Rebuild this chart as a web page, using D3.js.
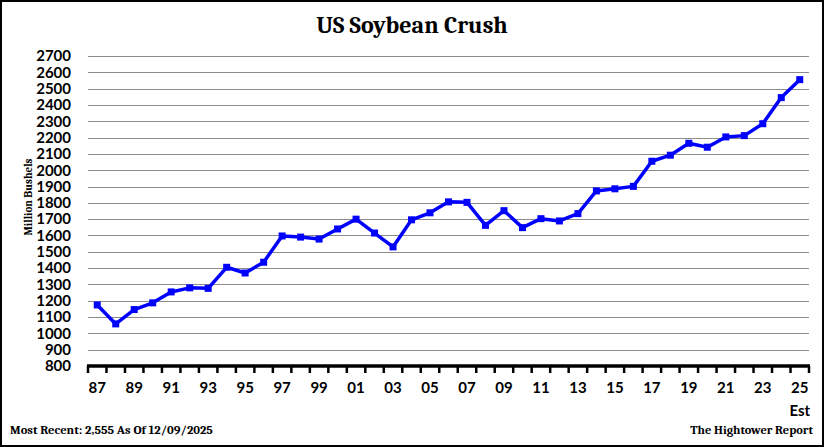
<!DOCTYPE html>
<html><head><meta charset="utf-8">
<script src="https://cdn.jsdelivr.net/npm/d3@7"></script>
<style>body{margin:0;background:#fff}svg{display:block}</style>
</head><body>
<svg id="c" width="824" height="447"></svg>
<script>
const years = ["87","88","89","90","91","92","93","94","95","96","97","98","99","00","01","02","03","04","05","06","07","08","09","10","11","12","13","14","15","16","17","18","19","20","21","22","23","24","25"];
const crush = [1174,1058,1146,1187,1254,1279,1276,1405,1370,1436,1597,1590,1578,1640,1700,1615,1530,1696,1739,1806,1803,1662,1752,1648,1703,1689,1734,1873,1886,1901,2055,2092,2165,2141,2204,2212,2285,2445,2555];
const yTicks = [800,900,1000,1100,1200,1300,1400,1500,1600,1700,1800,1900,2000,2100,2200,2300,2400,2500,2600,2700];
const title = "US Soybean Crush";
const yTitle = "Million Bushels";
const footLeft = "Most Recent: 2,555 As Of 12/09/2025";
const footRight = "The Hightower Report";

const svg = d3.select("#c");
const W = 824, H = 447;
const L = 88, R = 809, T = 56, B = 366;
const serif = "Cambria, 'Liberation Serif', 'DejaVu Serif', serif";
const sans = "Lato, Calibri, 'Open Sans', sans-serif";

svg.append("rect").attr("x",1).attr("y",1).attr("width",W-2).attr("height",H-2)
  .attr("fill","#fff").attr("stroke","#000").attr("stroke-width",2);

const x = d3.scaleBand().domain(years).range([L,R]);
const y = d3.scaleLinear().domain([800,2700]).range([B,T]);

// gridlines
svg.append("g").selectAll("line").data(yTicks.filter(v=>v>800)).join("line")
  .attr("x1",L).attr("x2",R).attr("y1",d=>Math.round(y(d))+0.5).attr("y2",d=>Math.round(y(d))+0.5)
  .attr("stroke","#8c8c8c").attr("stroke-width",1);

// y axis labels
const ya = svg.append("g").attr("transform",`translate(${L},0)`)
  .call(d3.axisLeft(y).tickValues(yTicks).tickFormat(d3.format("d")).tickSize(0).tickPadding(17));
ya.select(".domain").remove();
ya.selectAll("text").attr("font-family",sans).attr("font-weight","bold").attr("font-size",15).attr("fill","#000");

// x axis
const xa = svg.append("g").attr("transform",`translate(0,${B})`)
  .call(d3.axisBottom(x).tickSize(0).tickPadding(16).tickFormat((d,i)=> i%2===0 ? d : ""));
xa.select(".domain").remove();
xa.selectAll("text").attr("font-family",sans).attr("font-weight","bold").attr("font-size",15).attr("fill","#000");
// tick marks at band boundaries
const bounds = years.map(d=>x(d)).concat([x(years[years.length-1])+x.bandwidth()]);
svg.append("g").selectAll("line").data(bounds).join("line")
  .attr("x1",d=>d).attr("x2",d=>d).attr("y1",B).attr("y2",B+7)
  .attr("stroke","#000").attr("stroke-width",2.5);
svg.append("line").attr("x1",L-1).attr("x2",R+1).attr("y1",B).attr("y2",B)
  .attr("stroke","#000").attr("stroke-width",3.5);

svg.append("text").attr("x",x("25")+x.bandwidth()/2).attr("y",B+50)
  .attr("text-anchor","middle").attr("font-family",sans).attr("font-weight","bold")
  .attr("font-size",15).text("Est");

// line
const cx = d=>x(d)+x.bandwidth()/2;
svg.append("path").datum(years)
  .attr("d",d3.line().x(cx).y((d,i)=>y(crush[i])))
  .attr("fill","none").attr("stroke","#0000ff").attr("stroke-width",3.5).attr("stroke-linejoin","round");
svg.append("g").selectAll("rect").data(years).join("rect")
  .attr("x",d=>cx(d)-3.5).attr("y",(d,i)=>y(crush[i])-3.5).attr("width",7).attr("height",7)
  .attr("fill","#0000ff");

// titles
svg.append("text").attr("x",412).attr("y",33).attr("text-anchor","middle")
  .attr("font-family",serif).attr("font-weight","bold").attr("font-size",24).text(title);
svg.append("text").attr("transform","translate(32,197) rotate(-90)").attr("text-anchor","middle")
  .attr("font-family",serif).attr("font-weight","bold").attr("font-size",11).text(yTitle);
svg.append("text").attr("x",10).attr("y",434)
  .attr("font-family",serif).attr("font-weight","bold").attr("font-size",12.6).text(footLeft);
svg.append("text").attr("x",813).attr("y",434).attr("text-anchor","end")
  .attr("font-family",serif).attr("font-weight","bold").attr("font-size",12.4).text(footRight);
</script>
</body></html>
